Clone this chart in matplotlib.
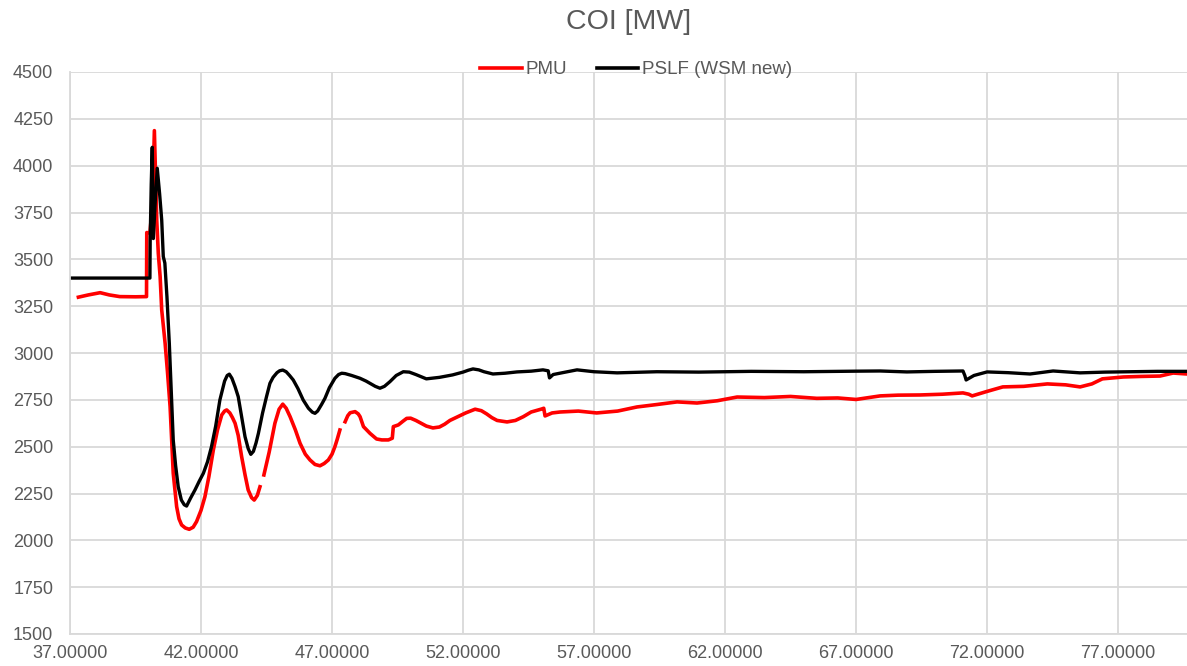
import numpy as np
import matplotlib
matplotlib.use("Agg")
import matplotlib.pyplot as plt

plt.rcParams['font.family'] = ['Liberation Sans', 'DejaVu Sans']

# COI flow, time in seconds
t_pslf = [37.0, 40.05, 40.06, 40.1, 40.14, 40.18, 40.25, 40.33, 40.42, 40.5, 40.56, 40.62,
          40.7, 40.79, 40.94, 41.03, 41.13, 41.25, 41.36, 41.45, 41.6, 41.77, 41.93, 42.09,
          42.25, 42.4, 42.56, 42.72, 42.9, 43.0, 43.08, 43.18, 43.3, 43.42, 43.55, 43.68,
          43.8, 43.9, 44.0, 44.1, 44.19, 44.35, 44.5, 44.63, 44.75, 44.9, 45.0, 45.12,
          45.25, 45.38, 45.52, 45.7, 45.9, 46.1, 46.25, 46.35, 46.45, 46.6, 46.73, 46.9,
          47.11, 47.25, 47.37, 47.5, 47.75, 48.07, 48.3, 48.45, 48.65, 48.83, 49.0, 49.21,
          49.45, 49.72, 49.95, 50.2, 50.6, 51.1, 51.6, 52.0, 52.2, 52.38, 52.6, 52.8,
          53.14, 53.6, 54.06, 54.6, 55.05, 55.25, 55.3, 55.44, 55.8, 56.35, 57.0, 57.88,
          59.4, 61.0, 63.0, 65.0, 67.0, 67.92, 68.94, 70.0, 71.08, 71.15, 71.2, 71.5,
          72.0, 72.8, 73.64, 74.52, 75.55, 76.5, 77.5, 78.5, 79.63]
v_pslf = [3400, 3400, 3600, 3900, 4098, 3611, 3800, 3986, 3850, 3710, 3515, 3480,
          3300, 3052, 2536, 2400, 2286, 2215, 2190, 2183, 2225, 2269, 2315, 2358,
          2420, 2500, 2610, 2749, 2850, 2880, 2887, 2865, 2820, 2767, 2660, 2553,
          2490, 2459, 2475, 2520, 2571, 2680, 2767, 2838, 2870, 2895, 2905, 2909,
          2900, 2880, 2856, 2810, 2749, 2705, 2684, 2678, 2690, 2725, 2758, 2815,
          2865, 2885, 2892, 2890, 2880, 2865, 2850, 2838, 2822, 2812, 2822, 2847,
          2880, 2900, 2898, 2885, 2862, 2870, 2883, 2898, 2908, 2915, 2910, 2900,
          2888, 2892, 2899, 2903, 2910, 2905, 2867, 2885, 2895, 2910, 2900, 2894,
          2900, 2898, 2902, 2900, 2903, 2904, 2899, 2902, 2904, 2880, 2856, 2880,
          2899, 2895, 2888, 2904, 2894, 2898, 2900, 2902, 2902]

t_pmu = [37.32, 37.7, 38.15, 38.5, 38.9, 39.5, 39.92, 39.93, 40.05, 40.15, 40.22, 40.31,
         40.37, 40.44, 40.5, 40.63, 40.72, 40.82, 40.94, 41.07, 41.16, 41.26, 41.4, 41.55,
         41.7, 41.83, 42.0, 42.15, 42.3, 42.47, 42.63, 42.79, 42.9, 42.98, 43.1, 43.2,
         43.3, 43.42, 43.55, 43.68, 43.8, 43.93, 44.03, 44.15, 44.25, 44.32, 44.4, 44.6,
         44.82, 44.98, 45.12, 45.25, 45.4, 45.6, 45.78, 45.98, 46.16, 46.35, 46.54, 46.7,
         46.86, 47.0, 47.11, 47.2, 47.3, 47.4, 47.5, 47.6, 47.69, 47.88, 48.0, 48.07,
         48.2, 48.45, 48.7, 48.9, 49.15, 49.3, 49.34, 49.53, 49.7, 49.85, 50.0, 50.2,
         50.4, 50.6, 50.85, 51.1, 51.3, 51.5, 51.8, 52.1, 52.46, 52.7, 52.9, 53.1,
         53.3, 53.68, 54.0, 54.3, 54.6, 55.0, 55.08, 55.13, 55.4, 55.7, 56.4, 57.1,
         57.9, 58.64, 59.4, 60.17, 60.93, 61.7, 62.46, 63.5, 64.5, 65.5, 66.3, 67.0,
         67.92, 68.6, 69.45, 70.3, 71.08, 71.3, 71.43, 72.0, 72.6, 73.4, 74.3, 75.0,
         75.55, 76.0, 76.4, 77.2, 77.9, 78.6, 79.1, 79.63]
v_pmu = [3298, 3310, 3322, 3310, 3301, 3300, 3301, 3643, 3640, 3800, 4187, 3710,
         3532, 3408, 3230, 3052, 2900, 2714, 2358, 2180, 2115, 2082, 2066, 2059,
         2070, 2100, 2160, 2233, 2340, 2482, 2590, 2669, 2690, 2696, 2680, 2655,
         2625, 2560, 2447, 2350, 2269, 2228, 2215, 2240, 2286, np.nan, 2349, 2470,
         2625, 2700, 2727, 2705, 2660, 2590, 2518, 2460, 2429, 2405, 2398, 2410,
         2429, 2460, 2500, 2540, 2589, np.nan, 2633, 2665, 2681, 2687, 2675, 2660,
         2607, 2571, 2541, 2536, 2536, 2545, 2607, 2616, 2635, 2651, 2652, 2640,
         2625, 2610, 2600, 2605, 2620, 2640, 2660, 2680, 2700, 2692, 2675, 2655,
         2640, 2632, 2640, 2660, 2685, 2701, 2705, 2664, 2680, 2685, 2690, 2680,
         2690, 2712, 2725, 2739, 2733, 2745, 2765, 2762, 2768, 2758, 2760, 2752,
         2771, 2775, 2776, 2780, 2787, 2780, 2771, 2795, 2819, 2822, 2835, 2830,
         2819, 2835, 2862, 2872, 2875, 2877, 2893, 2888]

fig = plt.figure(figsize=(11.87, 6.66), dpi=100)
ax = fig.add_axes([70 / 1187, 1 - 634 / 666, 1 - 70 / 1187, (634 - 72) / 666])

ax.plot(t_pmu, v_pmu, color='#ff0000', lw=2.6, label='PMU', solid_joinstyle='round')
ax.plot(t_pslf, v_pslf, color='black', lw=2.4, label='PSLF (WSM new)', solid_joinstyle='round')

ax.set_xlim(37, 79.63)
ax.set_ylim(1500, 4500)
ax.set_xticks(np.arange(37, 79, 5))
ax.set_xticklabels(['%.5f' % x for x in np.arange(37, 79, 5)])
ax.set_yticks(np.arange(1500, 4501, 250))

ax.grid(True, color='#d9d9d9', lw=1.3)
ax.set_axisbelow(True)
for s in ['top', 'right']:
    ax.spines[s].set_visible(False)
for s in ['left', 'bottom']:
    ax.spines[s].set_color('#d9d9d9')
    ax.spines[s].set_linewidth(1.3)
ax.tick_params(length=0, labelsize=13, colors='#595959')
ax.tick_params(axis='y', pad=12)
ax.tick_params(axis='x', pad=8)

fig.text(628.5 / 1187, 1 - 22 / 666, 'COI [MW]', ha='center', va='center',
         fontsize=20.5, color='#595959')

leg = ax.legend(loc='center', bbox_to_anchor=(0.507, 1.004), ncol=2, frameon=False,
                fontsize=13.5, handlelength=2.2, handletextpad=0.2, columnspacing=1.6,
                borderaxespad=0)
for txt in leg.get_texts():
    txt.set_color('#595959')
for ln in leg.get_lines():
    ln.set_linewidth(2.6)

fig.savefig('out.png', dpi=100)
